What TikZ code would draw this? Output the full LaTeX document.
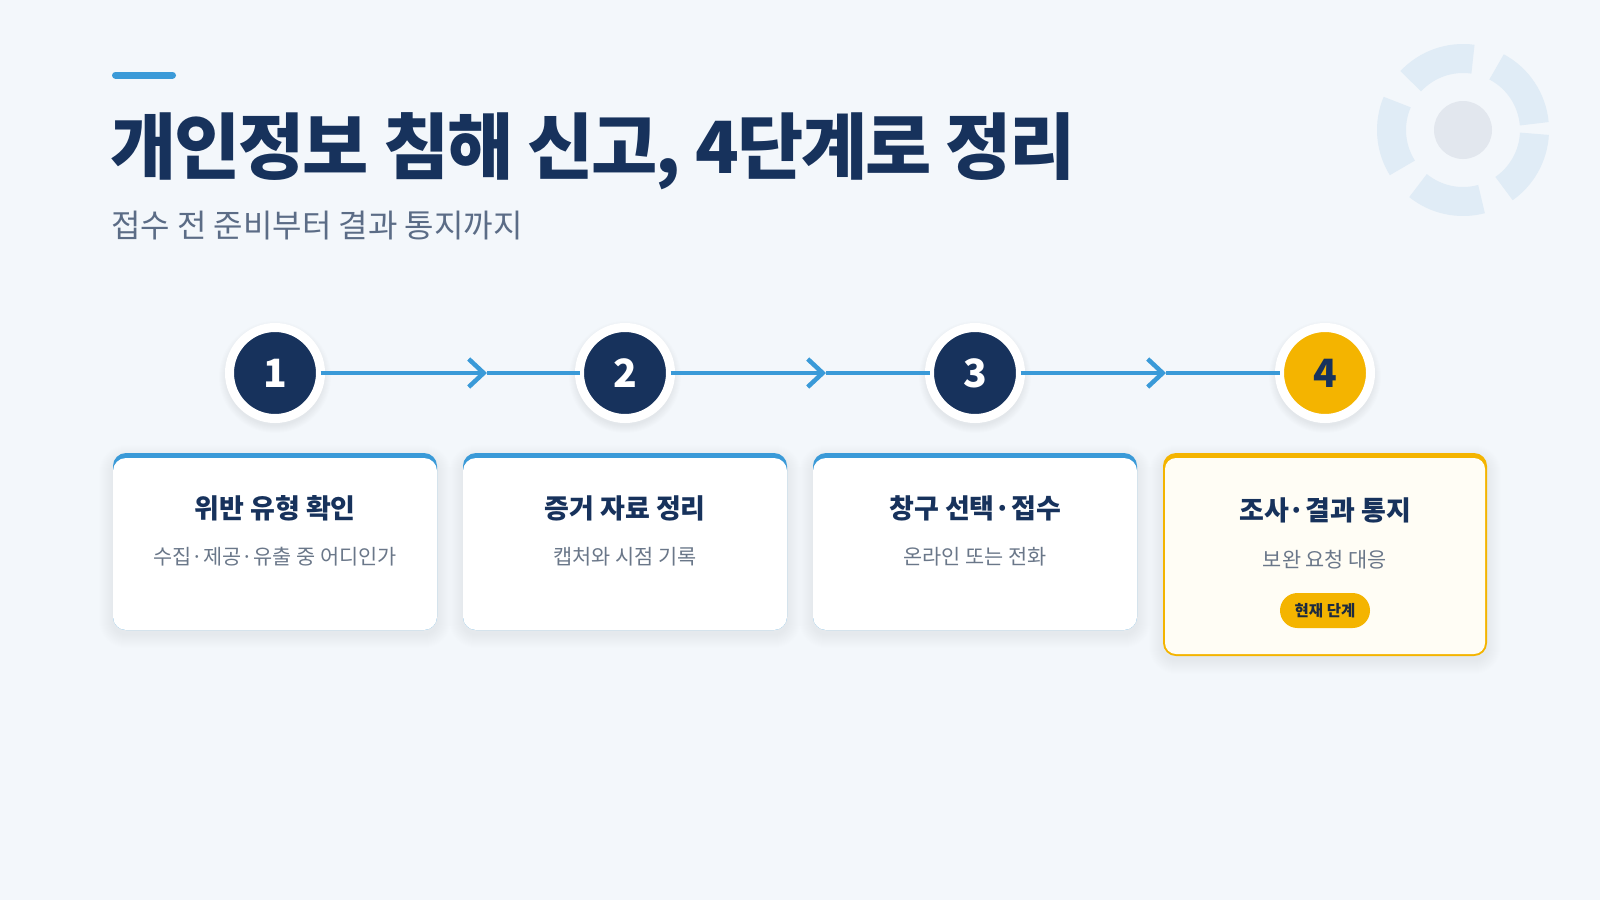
\documentclass[tikz,border=0pt]{standalone}
\usepackage{fontspec}
\setmainfont{Noto Sans CJK KR}
\newfontfamily\titlefont[LetterSpace=-3]{Noto Sans CJK KR}
\usetikzlibrary{positioning,arrows.meta}

\definecolor{pagebg}{HTML}{F3F7FB}
\definecolor{navy}{HTML}{17325C}
\definecolor{flowblue}{HTML}{3A9AD8}
\definecolor{gold}{HTML}{F4B400}
\definecolor{subgray}{HTML}{5B6C86}
\definecolor{cardgray}{HTML}{6A7789}
\definecolor{ringblue}{HTML}{E0ECF6}
\definecolor{dotgray}{HTML}{E2E7EE}
\definecolor{cream}{HTML}{FFFDF5}
\definecolor{badgetext}{HTML}{1C2A40}

\tikzset{
	stepdot/.style={circle, minimum size=91, inner sep=0, outer sep=0, fill=navy, draw=white, line width=9, text=white, font=\fontsize{39}{39}\selectfont\bfseries},
	flow/.style={draw=flowblue, line width=4.5},
	card/.style={rectangle, rounded corners=13, minimum width=324, minimum height=177, inner sep=0, outer sep=0},
	cardtitle/.style={text=navy, inner sep=0, font=\fontsize{27}{27}\selectfont\bfseries},
	cardsub/.style={text=cardgray, inner sep=0, font=\fontsize{20.8}{20.8}\selectfont},
	badge/.style={rectangle, rounded corners=17.5, minimum width=90, minimum height=35, inner sep=0, fill=gold, text=badgetext, font=\fontsize{15.5}{15.5}\selectfont\bfseries}
}

\begin{document}
\begin{tikzpicture}[x=1pt,y=-1pt]
	\pgfmathsetmacro{\StepGap}{350}
	\pgfmathsetmacro{\FirstX}{275}
	\pgfmathsetmacro{\DotY}{373}
	\pgfmathsetmacro{\RingR}{71.5}
	\useasboundingbox[fill=pagebg] (0,0) rectangle (1600,900);
	% HEADER
	\draw[flowblue, line width=7, line cap=round] (115.5,75) -- (172.5,75);
	\node[anchor=base west, inner sep=0, text=navy, font=\fontsize{72}{72}\titlefont\bfseries] (title) at (110,173) {개인정보 침해 신고, 4단계로 정리};
	\node[anchor=base west, inner sep=0, text=subgray, font=\fontsize{32}{32}\selectfont] (subtitle) at (111,237) {접수 전 준비부터 결과 통지까지};
	% DECORATION
	\coordinate (deco) at (1463,130);
	\foreach \a/\b in {5/62,82/137,157/212,231/285,305/357}
		\draw[ringblue, line width=29] (deco) ++(-\a:\RingR) arc[start angle=-\a, end angle=-\b, radius=\RingR];
	\fill[dotgray] (deco) circle (29);
	% CARDS
	\foreach \i/\head/\note in {1/위반 유형 확인/수집·제공·유출 중 어디인가, 2/증거 자료 정리/캡처와 시점 기록, 3/창구 선택·접수/온라인 또는 전화} {
		\pgfmathsetmacro{\CardX}{\FirstX+(\i-1)*\StepGap}
		\foreach \k in {1,...,14}
			\fill[navy, opacity=0.004, rounded corners=13+\k] (\CardX-162-\k,459-\k) rectangle (\CardX+162+\k,634+\k);
		\node[card, fill=flowblue] (c\i) at (\CardX,541.5) {};
		\fill[white, rounded corners=13] ([yshift=-5pt]c\i.north west) rectangle (c\i.south east);
		\node[cardtitle] (h\i) at ([yshift=-55pt]c\i.north) {\head};
		\node[cardsub] (n\i) at ([yshift=-104pt]c\i.north) {\note};
	}
	% CURRENT CARD
	\foreach \k in {1,...,14}
		\fill[navy, opacity=0.004, rounded corners=13+\k] (1325-162-\k,459-\k) rectangle (1325+162+\k,660+\k);
	\node[card, minimum height=203, fill=gold] (c4) at (1325,554.5) {};
	\fill[cream, rounded corners=11] ([shift={(2pt,-5pt)}]c4.north west) rectangle ([shift={(-2pt,2pt)}]c4.south east);
	\node[cardtitle] (h4) at ([yshift=-57pt]c4.north) {조사·결과 통지};
	\node[cardsub] (n4) at ([yshift=-107pt]c4.north) {보완 요청 대응};
	\node[badge] (now) at ([yshift=-157.5pt]c4.north) {현재 단계};
	% STEPS
	\foreach \i in {1,...,4} {
		\pgfmathsetmacro{\DotX}{\FirstX+(\i-1)*\StepGap}
		\foreach \k in {1,...,8}
			\fill[navy, opacity=0.008] (\DotX,\DotY+4) circle (48+\k);
	}
	\node[stepdot] (s1) at (\FirstX,\DotY) {1};
	\node[stepdot, right=\StepGap-91 of s1] (s2) {2};
	\node[stepdot, right=\StepGap-91 of s2] (s3) {3};
	\node[stepdot, right=\StepGap-91 of s3, fill=gold, text=navy] (s4) {4};
	% FLOW
	\coordinate (a1) at (487,\DotY);
	\coordinate (a2) at (826,\DotY);
	\coordinate (a3) at (1166,\DotY);
	\foreach \i/\j in {1/2,2/3,3/4} {
		\draw[flow, -{Straight Barb[length=15pt,width=28pt]}] (s\i) -- (a\i);
		\draw[flow] (a\i) -- (s\j);
	}
\end{tikzpicture}
\end{document}
